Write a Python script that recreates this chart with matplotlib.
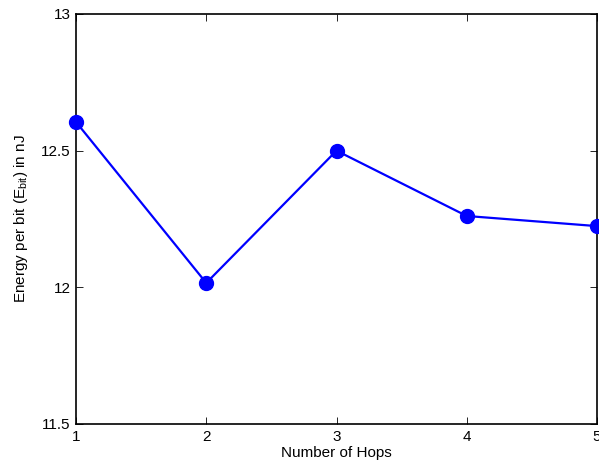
import matplotlib
matplotlib.use("Agg")
import matplotlib.pyplot as plt

hops = [1, 2, 3, 4, 5]
energy = [12.605, 12.016, 12.50, 12.261, 12.224]
xticks = [1, 2, 3, 4, 5]
yticks = [11.5, 12, 12.5, 13]
ytick_labels = ["11.5", "12", "12.5", "13"]

plt.rcParams['font.family'] = ['Liberation Sans', 'DejaVu Sans']
plt.rcParams['mathtext.fontset'] = 'custom'
plt.rcParams['mathtext.rm'] = 'Liberation Sans'
plt.rcParams['mathtext.it'] = 'Liberation Sans'

fig = plt.figure(figsize=(5.99, 4.70), dpi=100)
ax = fig.add_axes([76 / 599, 46 / 470, 521 / 599, 410 / 470])

ax.plot(hops, energy, color='#0000ff', linewidth=1.6, marker='o',
        markersize=10, clip_on=False, zorder=3)

ax.set_xlim(1, 5)
ax.set_ylim(11.5, 13)
ax.set_xticks(xticks)
ax.set_yticks(yticks)
ax.set_yticklabels(ytick_labels)
ax.tick_params(direction='in', length=5, width=0.6, labelsize=11, pad=4)
ax.tick_params(top=True, right=True, labeltop=False, labelright=False)
for s in ax.spines.values():
    s.set_linewidth(1.2)

ax.set_xlabel("Number of Hops", fontsize=11, labelpad=2)
ax.set_ylabel(r"Energy per bit (E$_{\mathrm{bit}}$) in nJ", fontsize=11, labelpad=8)

fig.savefig("out.png", dpi=100)
